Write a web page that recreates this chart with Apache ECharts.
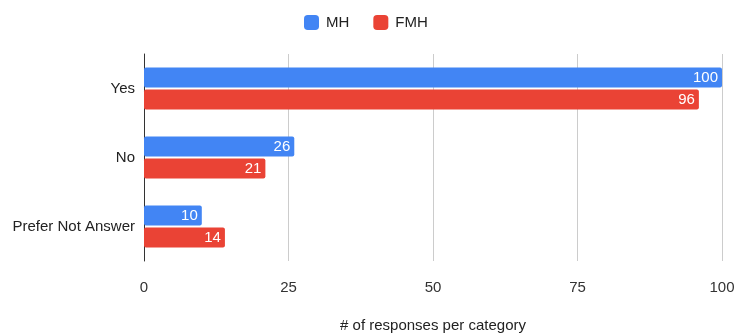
<!DOCTYPE html>
<html><head><meta charset="utf-8">
<script src="https://cdn.jsdelivr.net/npm/echarts@6/dist/echarts.min.js"></script>
<style>html,body{margin:0;padding:0;background:#fff}#c{width:735px;height:335px}</style>
</head><body><div id="c"></div>
<script>
const categories = ['Yes', 'No', 'Prefer Not Answer'];
const mhValues = [100, 26, 10];
const fmhValues = [96, 21, 14];
const xTicks = [0, 25, 50, 75, 100];

const chart = echarts.init(document.getElementById('c'), null, {renderer: 'canvas'});
const font = 'Arial, "Liberation Sans", sans-serif';
const lbl = {show: true, position: 'insideRight', color: '#fff', fontSize: 15, fontFamily: font, distance: 4};
chart.setOption({
  animation: false,
  legend: {
    top: 10, left: 299, itemWidth: 15, itemHeight: 15, itemGap: 24,
    textStyle: {fontSize: 15, color: '#222', fontFamily: font, padding: [0, 0, 0, 2]},
    icon: 'roundRect',
    data: ['MH', 'FMH']
  },
  grid: {left: 144, right: 13, top: 54, bottom: 74, containLabel: false, outerBoundsMode: 'none'},
  xAxis: {
    type: 'value', min: 0, max: 100, interval: 25,
    name: '# of responses per category', nameLocation: 'middle', nameGap: 57,
    nameTextStyle: {fontSize: 15, color: '#222', fontFamily: font},
    axisLabel: {fontSize: 15, color: '#333', fontFamily: font, margin: 19,
      formatter: v => xTicks.includes(v) ? String(v) : ''},
    splitLine: {lineStyle: {color: '#ccc'}},
    axisLine: {show: false}, axisTick: {show: false}
  },
  yAxis: {
    type: 'category', data: categories, inverse: true,
    axisLine: {lineStyle: {color: '#333', width: 1}},
    axisTick: {show: false},
    axisLabel: {fontSize: 15, color: '#222', fontFamily: font, margin: 9}
  },
  series: [
    {name: 'MH', type: 'bar', data: mhValues, barWidth: 20, barGap: '10%',
     itemStyle: {color: '#4285F4', borderRadius: 2}, label: lbl},
    {name: 'FMH', type: 'bar', data: fmhValues, barWidth: 20, barGap: '10%',
     itemStyle: {color: '#EA4335', borderRadius: 2}, label: lbl}
  ]
});
</script></body></html>
